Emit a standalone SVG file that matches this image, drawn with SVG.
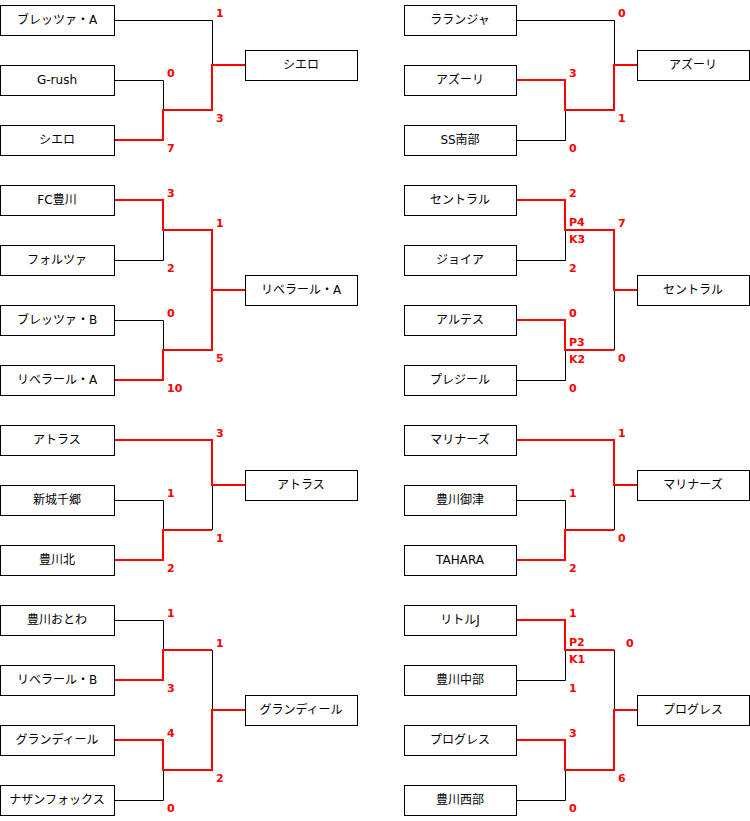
<svg xmlns="http://www.w3.org/2000/svg" width="750" height="821" viewBox="0 0 750 821">
<style>
.bx{fill:#fff;stroke:#000;stroke-width:1}
.t{font-family:"DejaVu Sans","Noto Sans CJK JP",sans-serif;font-size:12px;fill:#000;text-anchor:middle}
.s{font-family:"DejaVu Sans","Noto Sans CJK JP",sans-serif;font-size:11px;font-weight:bold;fill:#f00}
.k{fill:none;stroke:#000;stroke-width:1}
.r{fill:none;stroke:#f00;stroke-width:2}
</style>
<rect width="750" height="821" fill="#fff"/>
<g id="connectors">
<path class="k" d="M114.5 20.5H212.5V65M114.5 80.5H163.5V110"/>
<path class="r" d="M114.5 140H163V110H212V65H245"/>
<path class="k" d="M114.5 260.5H163.5V230M114.5 320.5H163.5V350M212.5 230V290"/>
<path class="r" d="M114.5 200H163V230H212V290H245M114.5 380H163V350H212V290"/>
<path class="k" d="M212.5 485V530M114.5 500.5H163.5V530"/>
<path class="r" d="M114.5 440H212V485H245M114.5 560H163V530H212"/>
<path class="k" d="M114.5 620.5H163.5V650M114.5 800.5H163.5V770M212.5 650V710"/>
<path class="r" d="M114.5 680H163V650H212M114.5 740H163V770H212V710H245"/>
<path class="k" d="M516.5 20.5H614.5V65M516.5 140.5H565.5V110"/>
<path class="r" d="M516.5 80H565V110H614V65H637"/>
<path class="k" d="M516.5 260.5H565.5V230M516.5 380.5H565.5V350M614.5 290V350"/>
<path class="r" d="M516.5 200H565V230H614V290H637M516.5 320H565V350H614"/>
<path class="k" d="M516.5 500.5H565.5V530M614.5 485V530"/>
<path class="r" d="M516.5 440H614V485H637M516.5 560H565V530H614"/>
<path class="k" d="M516.5 680.5H565.5V650M516.5 800.5H565.5V770M614.5 650V710"/>
<path class="r" d="M516.5 620H565V650H614M516.5 740H565V770H614V710H637"/>
</g>
<g id="scores">
<text class="s" x="216" y="17">1</text><text class="s" x="167" y="77">0</text><text class="s" x="216" y="122">3</text><text class="s" x="167" y="152">7</text>
<text class="s" x="167" y="197">3</text><text class="s" x="216" y="227">1</text><text class="s" x="167" y="272">2</text><text class="s" x="167" y="317">0</text><text class="s" x="216" y="362">5</text><text class="s" x="167" y="392">10</text>
<text class="s" x="216" y="437">3</text><text class="s" x="167" y="497">1</text><text class="s" x="216" y="542">1</text><text class="s" x="167" y="572">2</text>
<text class="s" x="167" y="617">1</text><text class="s" x="216" y="647">1</text><text class="s" x="167" y="692">3</text><text class="s" x="167" y="737">4</text><text class="s" x="216" y="782">2</text><text class="s" x="167" y="812">0</text>
<text class="s" x="618" y="17">0</text><text class="s" x="569" y="77">3</text><text class="s" x="618" y="122">1</text><text class="s" x="569" y="152">0</text>
<text class="s" x="569" y="197">2</text><text class="s" x="569" y="226">P4</text><text class="s" x="569" y="243">K3</text><text class="s" x="618" y="227">7</text><text class="s" x="569" y="272">2</text><text class="s" x="569" y="317">0</text><text class="s" x="569" y="346">P3</text><text class="s" x="569" y="363">K2</text><text class="s" x="618" y="362">0</text><text class="s" x="569" y="392">0</text>
<text class="s" x="618" y="437">1</text><text class="s" x="569" y="497">1</text><text class="s" x="618" y="542">0</text><text class="s" x="569" y="572">2</text>
<text class="s" x="569" y="617">1</text><text class="s" x="569" y="646">P2</text><text class="s" x="569" y="663">K1</text><text class="s" x="626" y="647">0</text><text class="s" x="569" y="692">1</text><text class="s" x="569" y="737">3</text><text class="s" x="618" y="782">6</text><text class="s" x="569" y="812">0</text>
</g>
<g id="n-l1a"><rect class="bx" x="0.5" y="5.5" width="114" height="30"/><text class="t" x="57" y="24">ブレッツァ・A</text></g>
<g id="n-l1b"><rect class="bx" x="0.5" y="65.5" width="114" height="30"/><text class="t" x="57" y="84">G-rush</text></g>
<g id="n-l1c"><rect class="bx" x="0.5" y="125.5" width="114" height="30"/><text class="t" x="57" y="144">シエロ</text></g>
<g id="n-l1w"><rect class="bx" x="245.5" y="50.5" width="112" height="30"/><text class="t" x="301" y="69">シエロ</text></g>
<g id="n-l2a"><rect class="bx" x="0.5" y="185.5" width="114" height="30"/><text class="t" x="57" y="204">FC豊川</text></g>
<g id="n-l2b"><rect class="bx" x="0.5" y="245.5" width="114" height="30"/><text class="t" x="57" y="264">フォルツァ</text></g>
<g id="n-l2c"><rect class="bx" x="0.5" y="305.5" width="114" height="30"/><text class="t" x="57" y="324">ブレッツァ・B</text></g>
<g id="n-l2d"><rect class="bx" x="0.5" y="365.5" width="114" height="30"/><text class="t" x="57" y="384">リベラール・A</text></g>
<g id="n-l2w"><rect class="bx" x="245.5" y="275.5" width="112" height="30"/><text class="t" x="301" y="294">リベラール・A</text></g>
<g id="n-l3a"><rect class="bx" x="0.5" y="425.5" width="114" height="30"/><text class="t" x="57" y="444">アトラス</text></g>
<g id="n-l3b"><rect class="bx" x="0.5" y="485.5" width="114" height="30"/><text class="t" x="57" y="504">新城千郷</text></g>
<g id="n-l3c"><rect class="bx" x="0.5" y="545.5" width="114" height="30"/><text class="t" x="57" y="564">豊川北</text></g>
<g id="n-l3w"><rect class="bx" x="245.5" y="470.5" width="112" height="30"/><text class="t" x="301" y="489">アトラス</text></g>
<g id="n-l4a"><rect class="bx" x="0.5" y="605.5" width="114" height="30"/><text class="t" x="57" y="624">豊川おとわ</text></g>
<g id="n-l4b"><rect class="bx" x="0.5" y="665.5" width="114" height="30"/><text class="t" x="57" y="684">リベラール・B</text></g>
<g id="n-l4c"><rect class="bx" x="0.5" y="725.5" width="114" height="30"/><text class="t" x="57" y="744">グランディール</text></g>
<g id="n-l4d"><rect class="bx" x="0.5" y="785.5" width="114" height="30"/><text class="t" x="57" y="804">ナザンフォックス</text></g>
<g id="n-l4w"><rect class="bx" x="245.5" y="695.5" width="112" height="30"/><text class="t" x="301" y="714">グランディール</text></g>
<g id="n-r1a"><rect class="bx" x="404.5" y="5.5" width="112" height="30"/><text class="t" x="460" y="24">ラランジャ</text></g>
<g id="n-r1b"><rect class="bx" x="404.5" y="65.5" width="112" height="30"/><text class="t" x="460" y="84">アズーリ</text></g>
<g id="n-r1c"><rect class="bx" x="404.5" y="125.5" width="112" height="30"/><text class="t" x="460" y="144">SS南部</text></g>
<g id="n-r1w"><rect class="bx" x="637.5" y="50.5" width="112" height="30"/><text class="t" x="693" y="69">アズーリ</text></g>
<g id="n-r2a"><rect class="bx" x="404.5" y="185.5" width="112" height="30"/><text class="t" x="460" y="204">セントラル</text></g>
<g id="n-r2b"><rect class="bx" x="404.5" y="245.5" width="112" height="30"/><text class="t" x="460" y="264">ジョイア</text></g>
<g id="n-r2c"><rect class="bx" x="404.5" y="305.5" width="112" height="30"/><text class="t" x="460" y="324">アルテス</text></g>
<g id="n-r2d"><rect class="bx" x="404.5" y="365.5" width="112" height="30"/><text class="t" x="460" y="384">プレジール</text></g>
<g id="n-r2w"><rect class="bx" x="637.5" y="275.5" width="112" height="30"/><text class="t" x="693" y="294">セントラル</text></g>
<g id="n-r3a"><rect class="bx" x="404.5" y="425.5" width="112" height="30"/><text class="t" x="460" y="444">マリナーズ</text></g>
<g id="n-r3b"><rect class="bx" x="404.5" y="485.5" width="112" height="30"/><text class="t" x="460" y="504">豊川御津</text></g>
<g id="n-r3c"><rect class="bx" x="404.5" y="545.5" width="112" height="30"/><text class="t" x="460" y="564">TAHARA</text></g>
<g id="n-r3w"><rect class="bx" x="637.5" y="470.5" width="112" height="30"/><text class="t" x="693" y="489">マリナーズ</text></g>
<g id="n-r4a"><rect class="bx" x="404.5" y="605.5" width="112" height="30"/><text class="t" x="460" y="624">リトルJ</text></g>
<g id="n-r4b"><rect class="bx" x="404.5" y="665.5" width="112" height="30"/><text class="t" x="460" y="684">豊川中部</text></g>
<g id="n-r4c"><rect class="bx" x="404.5" y="725.5" width="112" height="30"/><text class="t" x="460" y="744">プログレス</text></g>
<g id="n-r4d"><rect class="bx" x="404.5" y="785.5" width="112" height="30"/><text class="t" x="460" y="804">豊川西部</text></g>
<g id="n-r4w"><rect class="bx" x="637.5" y="695.5" width="112" height="30"/><text class="t" x="693" y="714">プログレス</text></g>
</svg>
